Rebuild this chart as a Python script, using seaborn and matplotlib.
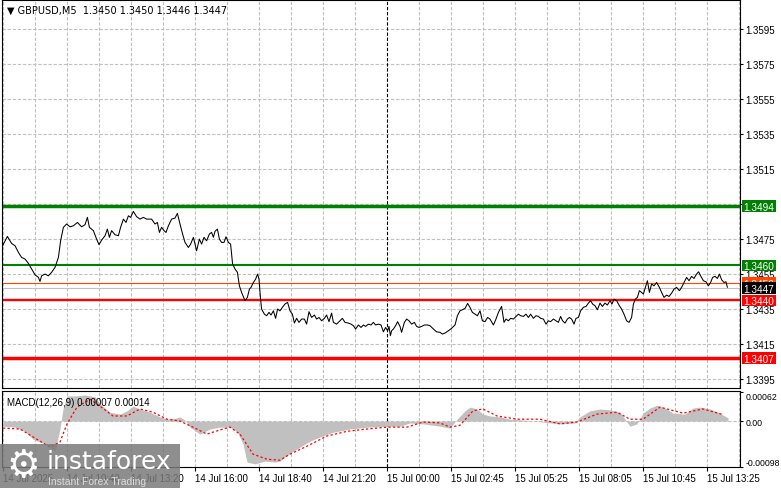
import matplotlib
matplotlib.use('Agg')
import matplotlib.pyplot as plt
import matplotlib.transforms as mtransforms
import numpy as np
import seaborn as sns
from matplotlib.patches import Rectangle

sns.set_theme(style='white')
plt.rcParams['font.family'] = ['Liberation Sans', 'DejaVu Sans']
plt.rcParams['axes.unicode_minus'] = False

# GBPUSD M5 closes, x = bar offset (5 min bars)
bars_a = [1.3, 3.7, 5.8, 7.5, 9.2, 10.8, 12.5, 14.2, 15.8, 17.5, 19.2, 20.0, 20.8, 22.5, 24.2,
          25.8, 27.5, 29.2, 30.3, 31.7, 33.3, 35.0, 36.7, 38.7, 40.8, 42.5, 43.7, 44.7, 46.7, 48.3,
          49.5, 50.8, 52.5, 53.7, 54.7, 55.8, 57.5, 59.2, 60.3, 61.7, 63.0, 64.2, 65.3, 66.7, 68.3,
          70.0, 71.7, 73.3, 75.8, 77.5, 78.7, 79.7, 80.8, 82.0, 83.0, 84.2, 85.8, 87.5, 88.7, 90.0,
          91.3, 92.5, 94.2, 95.3, 96.7, 98.3, 99.7, 100.8, 102.0, 103.3, 104.7, 105.8, 106.7, 107.5,
          108.7, 109.7, 110.8, 112.0, 113.0, 114.2, 115.3, 116.3, 117.5, 118.7, 119.7, 120.8, 122.5,
          123.7, 124.7]
close_a = [1.34712, 1.34765, 1.34725, 1.34712, 1.34674, 1.34645, 1.34636, 1.34611, 1.34579, 1.34546,
           1.34531, 1.34508, 1.34540, 1.34550, 1.34540, 1.34560, 1.34588, 1.34645, 1.34740, 1.34817,
           1.34836, 1.34820, 1.34826, 1.34845, 1.34820, 1.34832, 1.34874, 1.34817, 1.34798, 1.34750,
           1.34718, 1.34744, 1.34769, 1.34807, 1.34760, 1.34798, 1.34775, 1.34769, 1.34817, 1.34864,
           1.34845, 1.34883, 1.34874, 1.34908, 1.34878, 1.34864, 1.34874, 1.34864, 1.34864, 1.34836,
           1.34845, 1.34788, 1.34817, 1.34798, 1.34788, 1.34826, 1.34864, 1.34870, 1.34897, 1.34836,
           1.34779, 1.34731, 1.34702, 1.34721, 1.34760, 1.34683, 1.34750, 1.34721, 1.34760, 1.34740,
           1.34779, 1.34788, 1.34760, 1.34794, 1.34807, 1.34750, 1.34731, 1.34731, 1.34763, 1.34731,
           1.34721, 1.34607, 1.34579, 1.34560, 1.34483, 1.34445, 1.34398, 1.34417, 1.34464]
bars_b = [125.5, 126.7, 127.8, 128.8, 129.5, 130.2, 130.8, 132.2, 133.3, 134.5, 135.5, 136.7, 137.8,
          138.8, 140.0, 141.2, 142.5, 143.8, 145.0, 146.2, 147.2, 148.3, 149.5, 150.8, 152.2, 153.3,
          154.5, 155.8, 157.2, 158.3, 159.5, 160.8, 162.2, 163.3, 164.5, 165.8, 166.7, 168.3, 170.0,
          171.2, 172.5, 174.2, 175.5, 176.7, 177.8, 179.2, 180.5, 181.7, 182.8, 184.2, 185.5, 186.7,
          187.8, 189.2, 190.5, 191.7, 192.8, 193.8, 194.5, 195.2, 195.8, 196.7, 197.8, 198.8, 200.0,
          200.8, 202.2, 203.3, 204.5, 205.8, 207.2, 208.3, 209.5, 210.8, 212.2, 213.8, 215.0, 216.7,
          218.3, 220.0, 221.2, 222.5, 224.2, 225.8, 227.5, 228.7, 230.0, 231.2, 232.5, 233.8, 235.0,
          236.2, 237.5, 238.7, 240.0, 241.2, 242.5, 243.8]
close_b = [1.34474, 1.34502, 1.34521, 1.34550, 1.34521, 1.34417, 1.34350, 1.34321, 1.34312, 1.34331,
           1.34316, 1.34340, 1.34297, 1.34350, 1.34340, 1.34360, 1.34379, 1.34388, 1.34340, 1.34321,
           1.34270, 1.34297, 1.34274, 1.34293, 1.34293, 1.34264, 1.34335, 1.34302, 1.34316, 1.34293,
           1.34302, 1.34283, 1.34297, 1.34316, 1.34278, 1.34327, 1.34274, 1.34264, 1.34283, 1.34297,
           1.34274, 1.34270, 1.34264, 1.34255, 1.34236, 1.34259, 1.34245, 1.34259, 1.34251, 1.34264,
           1.34259, 1.34274, 1.34259, 1.34264, 1.34259, 1.34220, 1.34245, 1.34226, 1.34251, 1.34198,
           1.34226, 1.34236, 1.34255, 1.34278, 1.34251, 1.34217, 1.34274, 1.34293, 1.34283, 1.34264,
           1.34274, 1.34251, 1.34245, 1.34251, 1.34259, 1.34259, 1.34255, 1.34236, 1.34220, 1.34217,
           1.34207, 1.34213, 1.34226, 1.34240, 1.34259, 1.34312, 1.34340, 1.34346, 1.34354, 1.34382,
           1.34360, 1.34331, 1.34321, 1.34312, 1.34340, 1.34283, 1.34278, 1.34302]
bars_c = [245.0, 246.7, 248.0, 249.2, 250.8, 252.0, 253.0, 254.2, 255.3, 256.7, 258.0, 259.2, 260.3,
          261.7, 263.0, 264.2, 265.3, 266.7, 268.0, 269.2, 270.3, 271.7, 273.0, 274.2, 275.3, 276.7,
          278.0, 279.2, 280.3, 281.3, 282.5, 283.7, 284.7, 285.8, 287.0, 288.0, 289.2, 290.3, 291.7,
          293.0, 294.2, 295.3, 296.3, 297.5, 298.7, 300.0, 301.2, 302.5, 303.7, 305.0, 306.0, 307.0,
          308.3, 309.7, 310.8, 312.0, 313.3, 314.5, 315.8, 316.7, 317.7, 318.7, 319.7, 320.8, 321.7,
          322.7, 323.7, 324.7, 325.8, 327.0, 328.3, 329.7, 330.8, 332.0, 333.3, 334.5, 335.8, 337.0,
          338.3, 339.7, 340.8, 342.0, 343.3, 344.5, 345.8, 347.0, 348.3, 349.3, 350.3, 351.7, 353.0,
          354.2, 355.3, 356.3, 357.5, 358.7, 359.7, 360.8, 362.0, 363.0, 363.7]
close_c = [1.34293, 1.34259, 1.34293, 1.34331, 1.34365, 1.34274, 1.34293, 1.34283, 1.34297, 1.34293,
           1.34308, 1.34321, 1.34312, 1.34308, 1.34321, 1.34302, 1.34321, 1.34297, 1.34312, 1.34308,
           1.34297, 1.34293, 1.34264, 1.34283, 1.34278, 1.34293, 1.34283, 1.34274, 1.34308, 1.34283,
           1.34270, 1.34293, 1.34302, 1.34293, 1.34264, 1.34297, 1.34302, 1.34340, 1.34360, 1.34365,
           1.34384, 1.34398, 1.34379, 1.34369, 1.34346, 1.34384, 1.34365, 1.34384, 1.34373, 1.34398,
           1.34379, 1.34407, 1.34398, 1.34369, 1.34350, 1.34321, 1.34283, 1.34274, 1.34302, 1.34379,
           1.34407, 1.34417, 1.34455, 1.34445, 1.34436, 1.34474, 1.34512, 1.34445, 1.34493, 1.34483,
           1.34502, 1.34474, 1.34445, 1.34417, 1.34430, 1.34422, 1.34441, 1.34464, 1.34474, 1.34455,
           1.34474, 1.34502, 1.34531, 1.34512, 1.34537, 1.34525, 1.34550, 1.34563, 1.34540, 1.34512,
           1.34506, 1.34483, 1.34502, 1.34531, 1.34537, 1.34525, 1.34550, 1.34518, 1.34502, 1.34506,
           1.34474]

# MACD(12,26,9) main (histogram) and signal
macd_bar = [1.5, 7.5, 12.5, 16.5, 22.5, 27.5, 30, 31.5, 33.5, 37.5, 42.5, 47.5, 50, 55, 60, 63.5, 66.5,
            70, 75, 80, 83.5, 87.5, 90, 92.5, 95, 100, 105, 110, 115, 118.5, 121.5, 123.5, 127.5, 132.5,
            137.5, 140, 142.5, 146.5, 150, 155, 160, 166.5, 175, 183.5, 193.5, 200, 205, 211.5, 220, 225,
            228.5, 232.5, 235, 238.5, 241.5, 245, 250, 255, 262.5, 271.5, 280, 287.5, 290, 295, 300, 305,
            310, 312.5, 315, 318.5, 321.5, 325, 328.5, 332.5, 336.5, 342.5, 346.5, 350, 355, 359, 361.5, 364]
macd_main = [-0.00011, -0.00013, -0.00022, -0.00039, -0.00049, -0.00065, -0.00017, 0.00026, 0.00054,
             0.00054, 0.00056, 0.00052, 0.00037, 0.00019, 0.00015, 0.00022, 0.00032, 0.00026, 0.00019,
             0.00009, 0.00004, 0.00006, 0.00009, 0.00002, -0.00013, -0.00028, -0.00017, -0.00013,
             -0.00013, -0.00022, -0.00049, -0.00088, -0.00092, -0.00086, -0.00088, -0.00086, -0.00077,
             -0.00065, -0.00056, -0.00043, -0.00034, -0.00024, -0.00017, -0.00013, -0.00011, -0.00011,
             -0.00004, -0.00006, -0.00011, -0.00015, 0.00004, 0.00022, 0.00030, 0.00026, 0.00015,
             0.00011, 0.00009, 0.00004, 0.00002, -0.00002, -0.00006, -0.00004, 0.00009, 0.00022,
             0.00026, 0.00024, 0.00019, 0.00004, -0.00011, -0.00006, 0.00017, 0.00028, 0.00034,
             0.00028, 0.00017, 0.00015, 0.00028, 0.00030, 0.00026, 0.00019, 0.00013, 0.00007]
signal_bar = [1.5, 10, 16.5, 25, 30, 33.5, 38.5, 45, 50, 56.5, 63.5, 70, 76.5, 83.5, 90, 96.5, 103.5,
              110, 115, 120, 126.5, 133.5, 140, 145, 153.5, 163.5, 173.5, 183.5, 193.5, 203.5, 211.5,
              220, 225, 230, 236.5, 241.5, 248.5, 258.5, 270, 280, 288.5, 298.5, 308.5, 315, 321.5,
              330, 341.5, 351.5, 361.5]
macd_signal = [-0.00015, -0.00017, -0.00034, -0.00056, -0.00045, -0.00006, 0.00030, 0.00047, 0.00032,
               0.00011, 0.00011, 0.00026, 0.00019, 0.00004, 0.0, -0.00013, -0.00028, -0.00019,
               -0.00013, -0.00028, -0.00071, -0.00082, -0.00084, -0.00071, -0.00054, -0.00032,
               -0.00022, -0.00017, -0.00013, -0.00013, -0.00002, -0.00004, -0.00013, -0.00009,
               0.00022, 0.00026, 0.00011, 0.00004, 0.00004, -0.00006, -0.00002, 0.00015, 0.00019,
               0.00004, 0.00004, 0.00030, 0.00017, 0.00026, 0.00014]

time_labels = ['14 Jul 2025', '14 Jul 10:40', '14 Jul 13:20', '14 Jul 16:00', '14 Jul 18:40',
               '14 Jul 21:20', '15 Jul 00:00', '15 Jul 02:45', '15 Jul 05:25', '15 Jul 08:05',
               '15 Jul 10:45', '15 Jul 13:25']
price_ticks = [1.3395, 1.3415, 1.3435, 1.3455, 1.3475, 1.3495, 1.3515, 1.3535, 1.3555, 1.3575, 1.3595]

# support / resistance levels
level_price = [1.3494, 1.3460, 1.3440, 1.3407]
level_color = ['#008000', '#008000', '#FF0000', '#FF0000']
level_lw = [2.5, 1.5, 1.7, 2.5]
ask_level = 1.3450
bid_level = 1.3447

GRID = '#C0C0C0'
DASH = (0, (3, 1.6))
W, H = 781, 489
AX_L, AX_R = 2, 740          # axes edges in pixels
PX_PRICE = 1 / 17500         # price per pixel on the main panel


def right_tag(ax, y, text, fc, z):
    # coloured price box on the right scale, x in axes fraction, y in price
    trans = mtransforms.blended_transform_factory(ax.transAxes, ax.transData)
    x0 = (742 - AX_L) / (AX_R - AX_L)
    x1 = (776 - AX_L) / (AX_R - AX_L)
    h = 11.5 * PX_PRICE
    ax.add_patch(Rectangle((x0, y - h / 2), x1 - x0, h, transform=trans, facecolor=fc,
                           edgecolor='none', clip_on=False, zorder=z))
    ax.text((x0 + x1) / 2, y, text, transform=trans, ha='center', va='center_baseline',
            fontsize=7.2, color='white', zorder=z + 0.5, clip_on=False)


def main():
    fig = plt.figure(figsize=(W / 100, H / 100), dpi=100)
    fig.patch.set_facecolor('white')
    ax = fig.add_axes([AX_L / W, 1 - 389 / H, (AX_R - AX_L) / W, 388 / H])
    ax2 = fig.add_axes([AX_L / W, 1 - 467.7 / H, (AX_R - AX_L) / W, 75.4 / H], sharex=ax)

    x_ticks = [1.5 + 32 * k for k in range(len(time_labels))]
    v_grid = [1.5 + 16 * k for k in range(24)]

    # ---- price panel
    for g in price_ticks:
        ax.axhline(g, color=GRID, lw=0.8, ls=DASH, zorder=0)
    for a in (ax, ax2):
        for g in v_grid:
            if g != 193.5:
                a.axvline(g, color=GRID, lw=0.8, ls=DASH, zorder=0)
        a.axvline(193.5, color='black', lw=0.8, ls=DASH, zorder=1)

    for p, c, w in zip(level_price, level_color, level_lw):
        ax.axhline(p, color=c, lw=w, zorder=2)
    ax.axhline(ask_level, color='#FF4500', lw=0.8, zorder=2)
    ax.axhline(bid_level, color=GRID, lw=0.8, zorder=2)

    bars = bars_a + bars_b + bars_c
    closes = close_a + close_b + close_c
    sns.lineplot(x=bars, y=closes, ax=ax, color='black', linewidth=0.75,
                 estimator=None, sort=False, zorder=3)

    ax.set_xlim(1, 370)
    ax.set_ylim(1.33899, 1.36116)
    ax.yaxis.tick_right()
    ax.set_yticks(price_ticks)
    ax.set_yticklabels([f'{t:.4f}' for t in price_ticks])
    ax.tick_params(axis='y', right=True, length=2.5, width=0.8, pad=1.5, labelsize=7, colors='black')
    ax.tick_params(axis='x', bottom=False, labelbottom=False)
    ax.set_xlabel('')
    ax.set_ylabel('')

    right_tag(ax, ask_level, '1.3450', '#FF4500', 10)
    right_tag(ax, bid_level, '1.3447', 'black', 11)
    for i, (p, c) in enumerate(zip(level_price, level_color)):
        right_tag(ax, p, f'{p:.4f}', c, 12 + i)

    ax.text(0.007, 0.988, '\u25bc GBPUSD,M5  1.3450 1.3450 1.3446 1.3447', transform=ax.transAxes,
            fontsize=7, va='top', ha='left', color='black', family=['DejaVu Sans'])

    # ---- MACD panel
    ax2.axhline(0, color=GRID, lw=0.8, ls=DASH, zorder=0)
    ax2.fill_between(macd_bar, macd_main, 0, color='#C0C0C0', lw=0, zorder=2)
    sns.lineplot(x=signal_bar, y=macd_signal, ax=ax2, color='red', linewidth=0.9,
                 linestyle=(0, (1.8, 1.8)), estimator=None, sort=False, zorder=3)
    ax2.set_ylim(-0.00098, 0.00064)
    ax2.yaxis.tick_right()
    ax2.set_yticks([0.00062, 0.0, -0.00098])
    ax2.set_yticklabels(['0.00062', '0.00', '-0.00098'])
    ax2.tick_params(axis='y', right=True, length=2.5, width=0.8, pad=1.2, labelsize=6.3, colors='black')
    yl = ax2.get_yticklabels()
    yl[0].set_va('top')
    yl[2].set_va('bottom')
    ax2.set_xticks(x_ticks)
    ax2.set_xticklabels(time_labels, ha='left')
    ax2.tick_params(axis='x', bottom=True, length=3, width=0.8, pad=1.5, labelsize=7, colors='black')
    ax2.set_xlabel('')
    ax2.set_ylabel('')
    ax2.text(0.007, 0.93, 'MACD(12,26,9) 0.00007 0.00014', transform=ax2.transAxes,
             fontsize=7, va='top', ha='left', color='black')

    for a in (ax, ax2):
        for s in a.spines.values():
            s.set_color('black')
            s.set_linewidth(0.8)
        a.grid(False)

    # ---- watermark
    fig.patches.append(Rectangle((0, 0), 180 / W, 44 / H, transform=fig.transFigure,
                                 facecolor='#7a7a7a', alpha=0.85, edgecolor='none', zorder=20))
    fig.text(6 / W, 22 / H, '\u2699', fontsize=27, color='white', va='center', ha='left',
             family=['DejaVu Sans'], zorder=21)
    fig.text(47 / W, 27 / H, 'instaforex', fontsize=18, color='white', va='center', ha='left',
             family=['DejaVu Sans'], zorder=21)
    fig.text(48 / W, 7 / H, 'Instant Forex Trading', fontsize=7.5, color='#dddddd', va='center',
             ha='left', zorder=21)

    fig.savefig('out.png', dpi=100)


if __name__ == '__main__':
    plt.ioff()
    main()
